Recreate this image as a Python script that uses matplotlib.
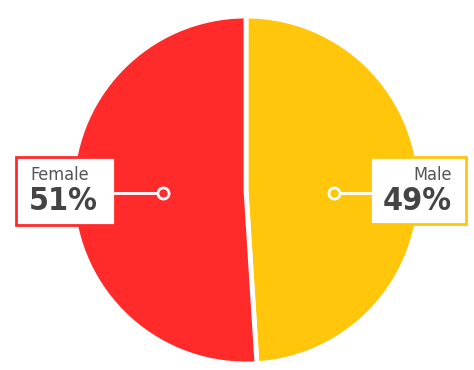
import matplotlib.pyplot as plt
from matplotlib.patches import Rectangle

labels = ["Male", "Female"]
shares = [49, 51]
colors = ["#FFC60B", "#FF2A2A"]

W, H = 474, 370
fig = plt.figure(figsize=(W / 100, H / 100), dpi=100)
ax = fig.add_axes([0, 0, 1, 1])

cx, cy, r = 246, 180, 174
ax.pie(shares, colors=colors, startangle=90, counterclock=False,
       center=(cx, cy), radius=r, frame=True,
       wedgeprops=dict(edgecolor="white", linewidth=3.5))
ax.set_xlim(0, W)
ax.set_ylim(0, H)
ax.set_aspect("equal")
ax.axis("off")

fnt = "DejaVu Sans"

# Female label (left)
ax.add_patch(Rectangle((16, 145), 99, 68, facecolor="white",
                       edgecolor=colors[1], linewidth=2, zorder=5))
ax.plot([115, 160], [177, 177], color="white", lw=2, zorder=6)
ax.plot(163, 177, "o", ms=8, mfc=colors[1], mec="white", mew=2, zorder=7)
ax.text(30, 195, labels[1], fontsize=13, color="#555555", family=fnt,
        stretch="condensed", weight="light", ha="left", va="center", zorder=8)
ax.text(29, 168, f"{shares[1]}%", fontsize=23, color="#444444",
        family=fnt, stretch="condensed", weight="bold",
        ha="left", va="center", zorder=8)

# Male label (right)
ax.add_patch(Rectangle((370, 146), 96, 67, facecolor="white",
                       edgecolor=colors[0], linewidth=2, zorder=5))
ax.plot([337, 370], [177, 177], color="white", lw=2, zorder=6)
ax.plot(334, 177, "o", ms=8, mfc=colors[0], mec="white", mew=2, zorder=7)
ax.text(452, 195, labels[0], fontsize=13, color="#555555", family=fnt,
        stretch="condensed", weight="light", ha="right", va="center", zorder=8)
ax.text(452, 168, f"{shares[0]}%", fontsize=23, color="#444444",
        family=fnt, stretch="condensed", weight="bold",
        ha="right", va="center", zorder=8)

fig.savefig("out.png", dpi=100, facecolor="white")
